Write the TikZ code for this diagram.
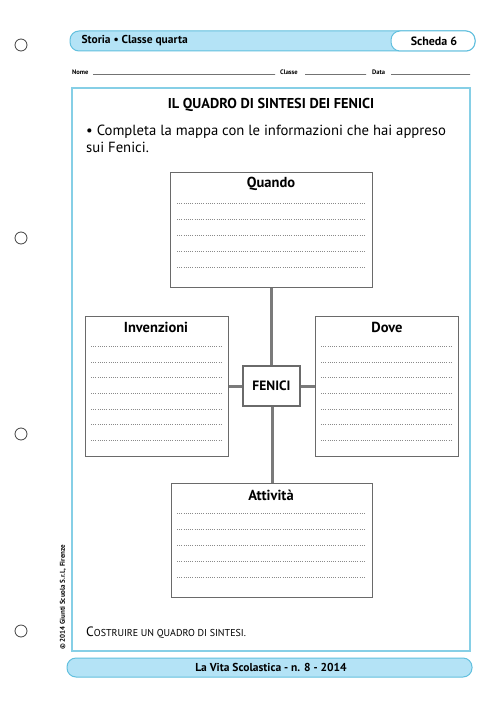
\documentclass[tikz,border=0pt]{standalone}
\usepackage{fontspec}
\setmainfont{PT Sans}
\setsansfont{PT Sans}
\definecolor{barfill}{HTML}{B4E3F6}
\definecolor{barline}{HTML}{62C0DE}
\definecolor{frameline}{HTML}{86CFE6}
\definecolor{boxline}{HTML}{6A6A6A}
\definecolor{linkline}{HTML}{7A7A7A}
\definecolor{dotcol}{HTML}{8A8A8A}
\begin{document}
\begin{tikzpicture}[x=1pt,y=-1pt,
  hole/.style={draw=black!75, line width=0.8pt},
  mapbox/.style={draw=boxline, line width=1.3pt, fill=white, anchor=north west, inner sep=0pt},
  centrebox/.style={draw=boxline, line width=1.1pt, fill=white, inner sep=0pt, minimum width=57pt, minimum height=40pt, font=\bfseries\fontsize{13.5}{15}\selectfont},
  link/.style={draw=linkline, line width=3pt},
  boxtitle/.style={font=\bfseries\fontsize{14.5}{16}\selectfont, anchor=center},
  writeline/.style={draw=dotcol, line width=0.6pt, dash pattern=on 0.6pt off 1.6pt},
  nameline/.style={draw=black!55, line width=0.45pt, dash pattern=on 0.4pt off 0.6pt}]
\useasboundingbox (0,0) rectangle (500,708);
\fill[white] (0,0) rectangle (500,708);

% binder holes
\foreach \yy in {45,238,434,631}
  \draw[hole] (21,\yy) circle (6pt);

% header bar
\draw[fill=barfill, draw=barline, line width=1pt, rounded corners=9pt] (70,31) rectangle (475,51);
\draw[fill=white, draw=barline, line width=1pt, rounded corners=9pt] (391,31) rectangle (475,51);
\node[anchor=west, font=\bfseries\fontsize{11.5}{14}\selectfont] (storia) at (78,41) {Storia • Classe quarta};
\node[font=\bfseries\fontsize{12}{14}\selectfont] (scheda) at (434,41) {Scheda 6};

% name line
\node[anchor=west, inner sep=0pt, font=\bfseries\fontsize{6.5}{8}\selectfont] (nome) at (72,72) {Nome};
\node[anchor=west, inner sep=0pt, font=\bfseries\fontsize{6.5}{8}\selectfont] (classe) at (280,72) {Classe};
\node[anchor=west, inner sep=0pt, font=\bfseries\fontsize{6.5}{8}\selectfont] (data) at (372,72) {Data};
\draw[nameline] (93,74) -- (275,74);
\draw[nameline] (305,74) -- (366,74);
\draw[nameline] (391,74) -- (470,74);

% main frame
\draw[draw=frameline, line width=1.6pt] (72,88) rectangle (470,651);

\node[font=\bfseries\fontsize{14.3}{16}\selectfont] (title) at (271,105) {IL QUADRO DI SINTESI DEI FENICI};
\node[anchor=north west, inner sep=0pt, align=left, font=\fontsize{14.7}{17}\selectfont] (instr) at (86,124.5)
  {• Completa la mappa con le informazioni che hai appreso\\sui Fenici.};

% boxes
\node[mapbox, minimum width=202pt, minimum height=115pt] (quando) at (170,172) {};
\node[mapbox, minimum width=143pt, minimum height=140pt] (inv) at (85,316) {};
\node[mapbox, minimum width=143pt, minimum height=140pt] (dove) at (315,316) {};
\node[mapbox, minimum width=201pt, minimum height=114pt] (att) at (171,483) {};
\node[centrebox] (fenici) at (271.5,386) {FENICI};

% connectors
\draw[link] (quando.south) -- (quando.south |- fenici.north);
\draw[link] (att.north) -- (att.north |- fenici.south);
\draw[link] (inv.east |- fenici.west) -- (fenici.west);
\draw[link] (fenici.east) -- (dove.west |- fenici.east);

% titles
\node[boxtitle] (tq) at (271,184) {Quando};
\node[boxtitle] (ti) at (156,327) {Invenzioni};
\node[boxtitle] (td) at (387,327) {Dove};
\node[boxtitle] (ta) at (271,495) {Attività};

% writing lines
\foreach \yy in {203,219,235,251,267} \draw[writeline] (177,\yy) -- (366,\yy);
\foreach \yy in {346,362,377,393,409,424,440} {
  \draw[writeline] (91,\yy) -- (221,\yy);
  \draw[writeline] (321,\yy) -- (452,\yy);
}
\foreach \yy in {513,529,545,561,577} \draw[writeline] (177,\yy) -- (366,\yy);

% bottom note (small caps imitation)
\node[anchor=base west, inner sep=0pt] (note) at (86,636)
  {{\fontsize{13.5}{15}\selectfont C}{\fontsize{10}{12}\selectfont OSTRUIRE UN QUADRO DI SINTESI.}};

% copyright
\node[rotate=90, anchor=west, inner sep=0pt, font=\bfseries\fontsize{7}{8}\selectfont] (copy) at (63,650) {© 2014 Giunti Scuola S.r.l., Firenze};

% footer bar
\draw[fill=barfill, draw=barline, line width=1pt, rounded corners=9pt] (67,658) rectangle (472,677);
\node[font=\bfseries\fontsize{11.5}{14}\selectfont] (footer) at (271,667.5) {La Vita Scolastica - n. 8 - 2014};
\end{tikzpicture}
\end{document}
